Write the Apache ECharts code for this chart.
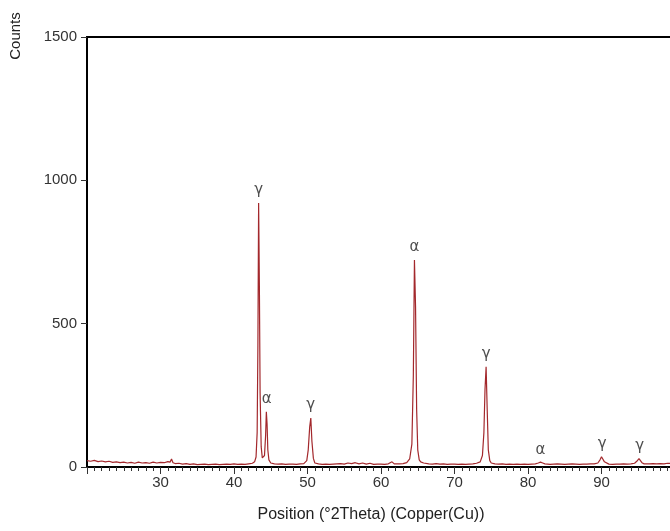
<!DOCTYPE html>
<html>
<head>
<meta charset="utf-8">
<script src="https://cdn.jsdelivr.net/npm/echarts@6/dist/echarts.min.js"></script>
<style>
  html, body { margin: 0; padding: 0; background: #fff; }
  #chart { width: 670px; height: 531px; }
</style>
</head>
<body>
<div id="chart"></div>
<script>
// [2theta, counts]
const pattern = [
  [20.0, 22], [20.5, 20], [21.0, 23], [21.5, 19], [22.0, 21], [22.5, 18], [23.0, 20], [23.5, 16],
  [24.0, 18], [24.5, 15], [25.0, 17], [25.5, 14], [26.0, 16], [26.5, 13], [27.0, 17], [27.5, 14],
  [28.0, 15], [28.5, 13], [29.0, 17], [29.5, 14], [30.0, 16], [30.5, 15], [31.0, 19], [31.3, 17],
  [31.5, 28], [31.7, 15], [32.0, 12], [32.5, 13], [33.0, 10], [33.5, 12], [34.0, 9], [34.5, 11],
  [35.0, 8], [35.5, 9], [36.0, 10], [36.5, 8], [37.0, 9], [37.5, 10], [38.0, 8], [38.5, 9],
  [39.0, 10], [39.5, 9], [40.0, 11], [40.5, 9], [41.0, 10], [41.5, 9], [42.0, 11], [42.5, 13],
  [42.8, 18], [43.0, 35], [43.15, 120], [43.25, 420], [43.35, 921], [43.45, 640], [43.55, 260],
  [43.7, 70], [43.85, 32], [44.0, 26], [44.15, 40], [44.3, 110], [44.4, 193], [44.5, 150],
  [44.6, 60], [44.75, 25], [45.0, 14], [45.5, 11], [46.0, 10], [46.5, 11], [47.0, 9], [47.5, 10],
  [48.0, 10], [48.5, 9], [49.0, 11], [49.5, 12], [49.9, 22], [50.1, 60], [50.3, 140], [50.45, 171],
  [50.6, 90], [50.8, 30], [51.0, 14], [51.5, 11], [52.0, 9], [52.5, 10], [53.0, 9], [53.5, 10],
  [54.0, 11], [54.5, 12], [55.0, 10], [55.5, 14], [56.0, 12], [56.5, 15], [57.0, 11], [57.5, 14],
  [58.0, 10], [58.5, 13], [59.0, 9], [59.5, 10], [60.0, 10], [60.5, 9], [61.0, 11], [61.5, 18],
  [61.8, 11], [62.0, 10], [62.5, 11], [63.0, 12], [63.5, 15], [63.9, 28], [64.2, 80], [64.4, 320],
  [64.55, 722], [64.7, 560], [64.85, 200], [65.0, 60], [65.2, 25], [65.4, 18], [65.6, 22], [65.8, 14],
  [66.0, 12], [66.5, 11], [67.0, 10], [67.5, 12], [68.0, 10], [68.5, 11], [69.0, 9], [69.5, 10],
  [70.0, 10], [70.5, 9], [71.0, 10], [71.5, 9], [72.0, 10], [72.5, 11], [73.0, 13], [73.5, 18],
  [73.8, 40], [74.0, 120], [74.15, 270], [74.3, 350], [74.45, 200], [74.6, 60], [74.8, 22], [75.0, 14],
  [75.5, 11], [76.0, 10], [76.5, 11], [77.0, 9], [77.5, 10], [78.0, 9], [78.5, 10], [79.0, 9],
  [79.5, 10], [80.0, 9], [80.5, 10], [81.0, 11], [81.4, 14], [81.7, 17], [82.0, 14], [82.3, 11],
  [82.5, 10], [83.0, 9], [83.5, 10], [84.0, 11], [84.5, 10], [85.0, 9], [85.5, 10], [86.0, 11],
  [86.5, 10], [87.0, 9], [87.5, 10], [88.0, 10], [88.5, 11], [89.0, 11], [89.5, 14], [89.8, 25],
  [90.0, 36], [90.2, 33], [90.4, 18], [90.6, 12], [91.0, 10], [91.5, 9], [92.0, 10], [92.5, 10],
  [93.0, 11], [93.5, 10], [94.0, 11], [94.5, 13], [94.8, 20], [95.1, 29], [95.3, 26], [95.5, 15],
  [95.8, 11], [96.0, 13], [96.5, 11], [97.0, 12], [97.5, 11], [98.0, 12], [98.5, 11], [99.0, 13],
  [99.5, 12], [100.0, 12]
]

// phase labels above the peaks
const peakPos = [43.35, 44.45, 50.45, 64.55, 74.3, 81.7, 90.1, 95.2]
const peakCounts = [921, 193, 171, 722, 350, 17, 36, 29]
const peakPhase = ['γ', 'α', 'γ', 'α', 'γ', 'α', 'γ', 'γ']

const yTicks = [0, 500, 1000, 1500]

const chart = echarts.init(document.getElementById('chart'))

chart.setOption({
    backgroundColor: '#fff',
    animation: false,
    grid: {
        left: 87,
        top: 37,
        width: 588,
        height: 430,
        outerBoundsMode: 'none',
        containLabel: false,
        show: true,
        borderColor: '#000',
        borderWidth: 2,
        backgroundColor: 'transparent'
    },
    xAxis: {
        type: 'value',
        min: 20,
        max: 100,
        interval: 10,
        name: 'Position (°2Theta) (Copper(Cu))',
        nameLocation: 'middle',
        nameGap: 40,
        nameTextStyle: {
            fontFamily: 'Liberation Sans',
            fontSize: 16,
            color: '#222',
            padding: [0, 20, 0, 0]
        },
        axisLine: { lineStyle: { color: '#000', width: 2 } },
        axisTick: { length: 7, lineStyle: { color: '#333', width: 1 } },
        minorTick: { show: true, splitNumber: 10, length: 4, lineStyle: { color: '#333', width: 1 } },
        axisLabel: {
            showMinLabel: false,
            showMaxLabel: false,
            margin: 8,
            fontFamily: 'Liberation Sans',
            fontSize: 15,
            color: '#333'
        },
        splitLine: { show: false }
    },
    yAxis: {
        type: 'value',
        min: yTicks[0],
        max: yTicks[yTicks.length - 1],
        interval: 500,
        axisLine: { show: true, lineStyle: { color: '#000', width: 2 } },
        axisTick: { show: true, length: 6, lineStyle: { color: '#333', width: 1 } },
        axisLabel: {
            margin: 10,
            formatter: v => String(v),
            fontFamily: 'Liberation Sans',
            fontSize: 15,
            color: '#333'
        },
        splitLine: { show: false }
    },
    graphic: [{
        type: 'text',
        x: 16,
        y: 36,
        rotation: Math.PI / 2,
        style: {
            text: 'Counts',
            font: '15px "Liberation Sans"',
            fill: '#222',
            align: 'center',
            verticalAlign: 'middle'
        }
    }],
    series: [
        {
            type: 'line',
            data: pattern,
            symbol: 'none',
            lineStyle: { color: '#a3282c', width: 1.2 },
            z: 3
        },
        {
            type: 'scatter',
            data: peakPos.map((x, i) => [x, peakCounts[i], peakPhase[i]]),
            symbolSize: 0,
            silent: true,
            label: {
                show: true,
                position: 'top',
                distance: 5,
                formatter: p => p.data[2],
                fontFamily: 'DejaVu Sans',
                fontSize: 15,
                color: '#222'
            },
            z: 4
        }
    ]
})
</script>
</body>
</html>
